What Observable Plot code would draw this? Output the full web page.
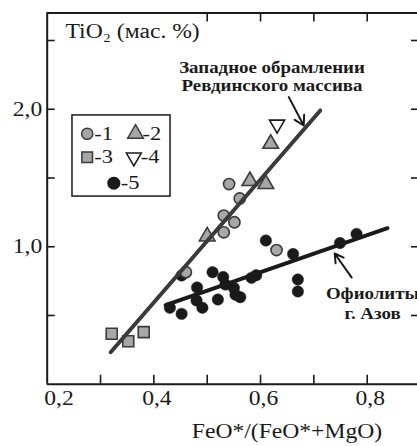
<!DOCTYPE html>
<html><head><meta charset="utf-8">
<script src="https://cdn.jsdelivr.net/npm/d3@7"></script>
<script src="https://cdn.jsdelivr.net/npm/@observablehq/plot@0.6"></script>
<style>
html,body{margin:0;padding:0;background:#fff}
#chart svg{display:block}
#chart svg text, #chart svg tspan{font-family:"Liberation Serif","Times New Roman",Times,Tinos,"DejaVu Serif",serif !important}
</style>
</head><body><div id="chart"></div>
<script>
// ---------- data ----------
// 1 — gray circles
const s1x = [0.541, 0.561, 0.531, 0.551, 0.531, 0.630, 0.460];
const s1y = [1.456, 1.351, 1.227, 1.178, 1.105, 0.976, 0.815];
// 2 — gray triangles
const s2x = [0.619, 0.580, 0.610, 0.500];
const s2y = [1.749, 1.478, 1.456, 1.075];
// 3 — gray squares
const s3x = [0.321, 0.352, 0.381];
const s3y = [0.367, 0.313, 0.379];
// 4 — open inverted triangle
const s4x = [0.631];
const s4y = [1.889];
// 5 — black dots
const s5x = [0.610, 0.661, 0.749, 0.780, 0.670, 0.670, 0.452, 0.510, 0.530, 0.583, 0.592,
             0.481, 0.534, 0.550, 0.553, 0.562, 0.520, 0.480, 0.491, 0.430, 0.452];
const s5y = [1.045, 0.947, 1.027, 1.093, 0.762, 0.675, 0.791, 0.815, 0.780, 0.774, 0.793,
             0.704, 0.725, 0.701, 0.651, 0.633, 0.616, 0.609, 0.556, 0.556, 0.512];
// trend lines (end points)
const westLineX = [0.319, 0.712];
const westLineY = [0.233, 1.991];
const azovLineX = [0.422, 0.838];
const azovLineY = [0.576, 1.135];
// ticks
const xLabelTicks = [0.2, 0.4, 0.6, 0.8];
const bottomTicks = [0.3, 0.4, 0.5, 0.6, 0.7, 0.8];
const topTicks = [0.5, 0.6, 0.7, 0.8];
const yTicks = [0.5, 1.0, 1.5, 2.0, 2.5];
const yLabelTicks = [1.0, 2.0];
// texts
const legendLabels = ["-1", "-2", "-3", "-4", "-5"];
const xTitle = "FeO*/(FeO*+MgO)";
const yTitle = "TiO\u2082 (мас. %)";
const westLabel = "Западное обрамлении\nРевдинского массива";
const azovLabel = "Офиолиты\nг. Азов";

// ---------- layout / style ----------
const FONT = "'Liberation Serif', 'Times New Roman', Times, Tinos, 'DejaVu Serif', serif";
const gray = "#a7a7a7", dark = "#3a3a3a", ink = "#1a1a1a";
const S = 1.18; // horizontal text stretch
const fmt = d => d.toFixed(1).replace(".", ",");
const zip = (xs, ys) => xs.map((x, i) => ({x, y: ys[i]}));
const legendBox = {x1: 0.2474, x2: 0.4312, y1: 1.365, y2: 1.955};
const legendPos = [
  {x: 0.275, y: 1.822}, {x: 0.3656, y: 1.822},
  {x: 0.275, y: 1.651}, {x: 0.3624, y: 1.651},
  {x: 0.3249, y: 1.462}
];
const legendSym = [
  {symbol: "circle", fill: gray, stroke: dark, r: 5.6, rotate: 0},
  {symbol: "triangle", fill: gray, stroke: dark, r: 5.8, rotate: 0},
  {symbol: "square", fill: gray, stroke: dark, r: 6.0, rotate: 0},
  {symbol: "triangle", fill: "white", stroke: ink, r: 5.6, rotate: 180},
  {symbol: "circle", fill: ink, stroke: ink, r: 5.8, rotate: 0}
];
const legendItems = legendLabels.map((t, i) => ({t, ...legendPos[i], ...legendSym[i]}));
const westAnn = {x: 0.6215, y: 2.134};
const azovAnn = {x: 0.810, y: 0.478};
const westArrow = {x1: 0.653, y1: 2.088, x2: 0.681, y2: 1.882};
const azovArrow = {x1: 0.771, y1: 0.776, x2: 0.739, y2: 0.951};

const chart = Plot.plot({
  width: 417, height: 446,
  marginLeft: 46.7, marginRight: 0, marginTop: 12.5, marginBottom: 62.25,
  x: {domain: [0.2, 0.8943]},
  y: {domain: [0, 2.7]},
  r: {type: "identity"},
  style: {fontFamily: FONT, background: "white", color: ink},
  marks: [
    // ticks (inward)
    Plot.axisX(bottomTicks, {anchor: "bottom", tickSize: -9, tickFormat: () => "", stroke: ink, strokeWidth: 1.6}),
    Plot.axisX(topTicks, {anchor: "top", tickSize: -8, tickFormat: () => "", stroke: ink, strokeWidth: 1.6}),
    Plot.axisY(yTicks, {anchor: "left", tickSize: -8, tickFormat: () => "", stroke: ink, strokeWidth: 1.6}),
    Plot.axisY(yTicks, {anchor: "right", tickSize: -7, tickFormat: () => "", stroke: ink, strokeWidth: 1.6}),
    // frame lines
    Plot.ruleX([0.2], {stroke: ink, strokeWidth: 2}),
    Plot.ruleY([0, 2.7], {stroke: ink, strokeWidth: 2}),
    // tick labels
    Plot.text(xLabelTicks.slice(1), {x: d => d, text: fmt, frameAnchor: "bottom", lineAnchor: "top", dy: 7, dx: 3, fontSize: 20}),
    Plot.text(xLabelTicks.slice(0, 1), {x: d => d, text: fmt, frameAnchor: "bottom", lineAnchor: "top", textAnchor: "start", dy: 7, dx: -3, fontSize: 20}),
    Plot.text(yLabelTicks, {y: d => d, text: fmt, frameAnchor: "left", textAnchor: "end", dx: -5, fontSize: 20}),
    // axis titles
    Plot.text([xTitle], {text: d => d, frameAnchor: "bottom", lineAnchor: "bottom", dx: 54.6, dy: 53.3, fontSize: 20}),
    Plot.text([yTitle], {text: d => d, frameAnchor: "top-left", textAnchor: "start", lineAnchor: "bottom", dx: 18.3, dy: 24.5, fontSize: 20}),
    // legend
    Plot.rect([legendBox], {x1: "x1", x2: "x2", y1: "y1", y2: "y2", fill: "white", stroke: ink, strokeWidth: 1.5}),
    Plot.dot(legendItems, {x: "x", y: "y", symbol: d => d.symbol, fill: d => d.fill, stroke: d => d.stroke, r: "r", rotate: "rotate", strokeWidth: 1.5}),
    Plot.text(legendItems, {x: "x", y: "y", text: "t", textAnchor: "start", dx: 7, fontSize: 19}),
    // data points
    Plot.dot(zip(s5x, s5y), {x: "x", y: "y", r: 5.7, fill: ink, stroke: ink, strokeWidth: 0.5}),
    Plot.dot(zip(s3x, s3y), {x: "x", y: "y", symbol: "square", r: 6.2, fill: gray, stroke: dark, strokeWidth: 1.6}),
    Plot.dot(zip(s2x, s2y), {x: "x", y: "y", symbol: "triangle", r: 5.8, fill: gray, stroke: dark, strokeWidth: 1.6}),
    Plot.dot(zip(s1x, s1y), {x: "x", y: "y", symbol: "circle", r: 5.6, fill: gray, stroke: dark, strokeWidth: 1.6}),
    Plot.dot(zip(s4x, s4y), {x: "x", y: "y", symbol: "triangle", rotate: 180, r: 5.6, fill: "white", stroke: ink, strokeWidth: 1.6}),
    // trend lines
    Plot.line(zip(westLineX, westLineY), {x: "x", y: "y", stroke: dark, strokeWidth: 4}),
    Plot.line(zip(azovLineX, azovLineY), {x: "x", y: "y", stroke: ink, strokeWidth: 4}),
    // annotations
    Plot.text([westAnn], {x: "x", y: "y", text: () => westLabel, lineAnchor: "bottom", lineHeight: 1.13, fontSize: 16, fontWeight: "bold"}),
    Plot.text([azovAnn], {x: "x", y: "y", text: () => azovLabel, lineAnchor: "bottom", lineHeight: 1.25, fontSize: 16, fontWeight: "bold"}),
    Plot.arrow([westArrow, azovArrow], {x1: "x1", y1: "y1", x2: "x2", y2: "y2", stroke: ink, strokeWidth: 2, headLength: 9})
  ]
});
document.getElementById("chart").appendChild(chart);

// stretch text horizontally to match the reference's wide lettering
chart.querySelectorAll("text").forEach(t => {
  const spans = t.querySelectorAll("tspan");
  const els = spans.length ? Array.from(spans) : [t];
  for (const el of els) {
    const w = el.getComputedTextLength();
    if (w > 0) {
      el.setAttribute("textLength", (w * S).toFixed(2));
      el.setAttribute("lengthAdjust", "spacingAndGlyphs");
    }
  }
});
</script>
</body></html>
